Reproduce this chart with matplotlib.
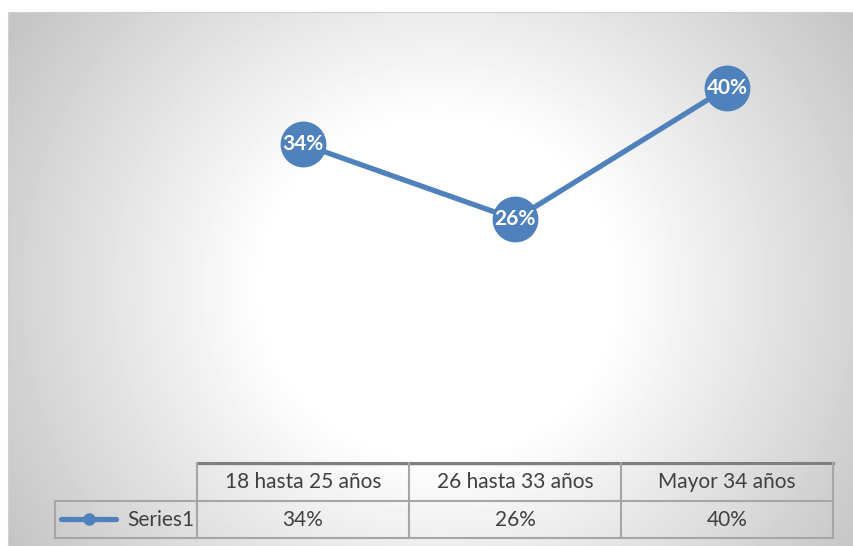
import matplotlib
matplotlib.use("Agg")
import matplotlib.pyplot as plt
import numpy as np

categories = ["18 hasta 25 años", "26 hasta 33 años", "Mayor 34 años"]
values = [0.34, 0.26, 0.40]
series_name = "Series1"
labels = ["34%", "26%", "40%"]

W, H = 854, 546
blue = "#4F81BD"
grid = "#a6a6a6"
txt = "#404040"
plt.rcParams['font.family'] = ['Lato', 'DejaVu Sans']

fig = plt.figure(figsize=(W / 100, H / 100), dpi=100)
fig.patch.set_facecolor("white")

def px_axes(x0, y0, x1, y1):
    # pixel box (top-left origin) -> figure axes
    return fig.add_axes([x0 / W, 1 - y1 / H, (x1 - x0) / W, (y1 - y0) / H])

# background with radial gradient
bg = px_axes(8, 12, W, H)
yy, xx = np.mgrid[0:H - 12, 0:W - 8]
cx, cy = 430, 275
r = np.sqrt(((xx - cx) / 1.0) ** 2 + ((yy - cy) / 0.95) ** 2)
t = np.clip((r - 175) / 330, 0, 1)
shade = 1 - t * 0.23
bg.imshow(shade, cmap="gray", vmin=0, vmax=1, aspect="auto", interpolation="bilinear")
bg.set_xticks([])
bg.set_yticks([])
for s in bg.spines.values():
    s.set_color("#d0d0d0")

# line plot
ax = px_axes(197, 41, 833, 463)
ax.set_facecolor("none")
x = np.arange(len(categories))
ax.plot(x, values, color=blue, lw=3.8, marker="o", ms=32, mfc=blue, mec=blue,
        solid_capstyle="round", zorder=3)
for xi, v, lab in zip(x, values, labels):
    ax.text(xi, v, lab, color="white", fontsize=15, fontweight="bold",
            ha="center", va="center", zorder=4)
ax.set_xlim(-0.5, 2.5)
ax.set_ylim(0, 0.45)
ax.axis("off")

# data table
left_px = 55
col_w = (833 - 197) / 3
tb = px_axes(left_px, 463, 833, 538)
tb.set_facecolor("none")
x_left = -0.5 - (197 - left_px) / col_w
tb.set_xlim(x_left, 2.5)
tb.set_ylim(0, 2)
tb.axis("off")
edges = [-0.5 + i for i in range(len(categories) + 1)]
# top double line
tb.plot([-0.5, 2.5], [2, 2], color="#7f7f7f", lw=2.2, clip_on=False)
tb.plot([-0.5, 2.5], [1.95, 1.95], color="#d9d9d9", lw=0.6, clip_on=False)
tb.plot([x_left, 2.5], [1, 1], color=grid, lw=1.5, clip_on=False)
tb.plot([x_left, 2.5], [0, 0], color=grid, lw=1.5, clip_on=False)
for e in edges:
    tb.plot([e, e], [0, 2], color=grid, lw=1.5, clip_on=False)
tb.plot([x_left, x_left], [0, 1], color=grid, lw=1.5, clip_on=False)
for xi, c, lab in zip(x, categories, labels):
    tb.text(xi, 1.48, c, ha="center", va="center", fontsize=15, color=txt)
    tb.text(xi, 0.48, lab, ha="center", va="center", fontsize=15, color=txt)
tb.plot([x_left + 0.03, x_left + 0.29], [0.5, 0.5], color=blue, lw=3.8,
        solid_capstyle="round", clip_on=False)
tb.plot([x_left + 0.16], [0.5], "o", color=blue, ms=8, clip_on=False)
tb.text(-0.51, 0.48, series_name, ha="right", va="center", fontsize=15, color=txt)

fig.savefig("out.png", dpi=100)
